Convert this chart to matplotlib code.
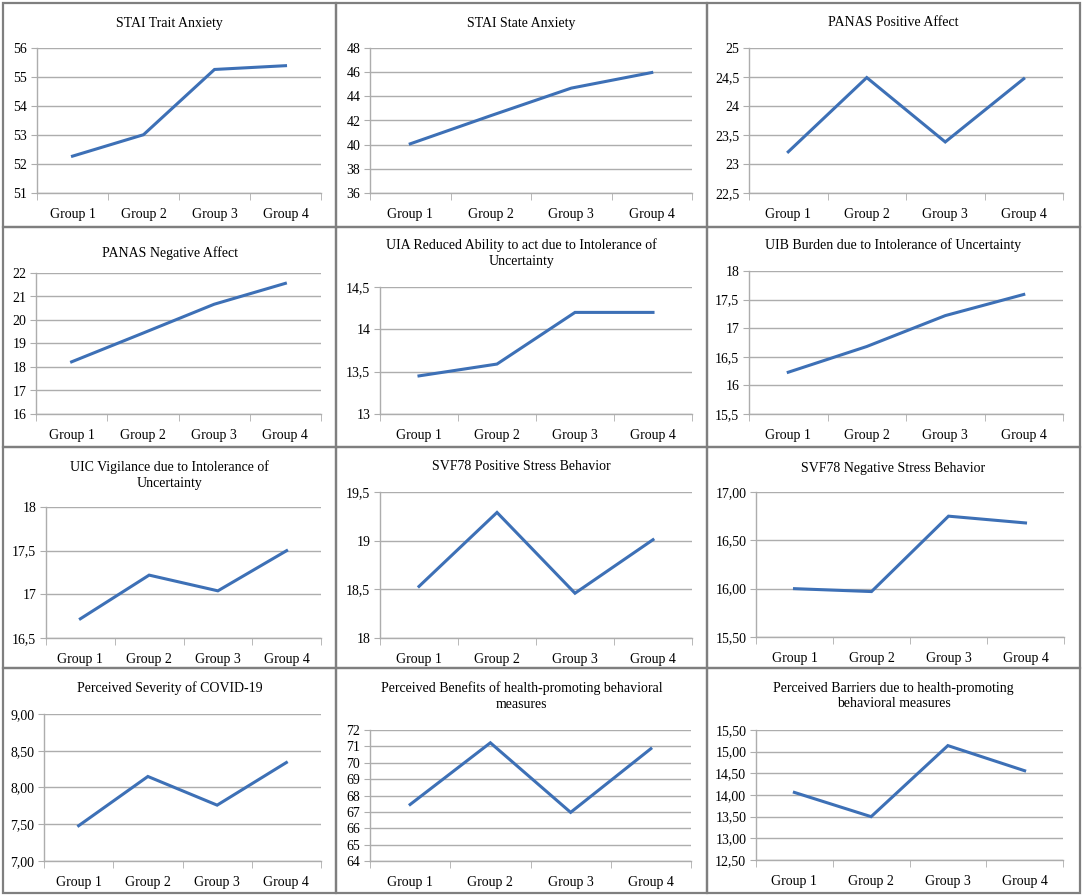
import numpy as np
import matplotlib
matplotlib.use('Agg')
from matplotlib import pyplot as plt
from matplotlib.ticker import FuncFormatter, FixedLocator
from matplotlib.patches import Rectangle

plt.rcParams['font.family'] = ['Liberation Serif', 'DejaVu Serif']
plt.rcParams['font.size'] = 10

groups = ['Group 1', 'Group 2', 'Group 3', 'Group 4']

titles = [
    'STAI Trait Anxiety',
    'STAI State Anxiety',
    'PANAS Positive Affect',
    'PANAS Negative Affect',
    'UIA Reduced Ability to act due to Intolerance of\nUncertainty',
    'UIB Burden due to Intolerance of Uncertainty',
    'UIC Vigilance due to Intolerance of\nUncertainty',
    'SVF78 Positive Stress Behavior',
    'SVF78 Negative Stress Behavior',
    'Perceived Severity of COVID-19',
    'Perceived Benefits of health-promoting behavioral\nmeasures',
    'Perceived Barriers due to health-promoting\nbehavioral measures',
]

stai_trait = [52.27, 53.01, 55.26, 55.39]
stai_state = [40.07, 42.40, 44.68, 45.97]
panas_pos = [23.21, 24.49, 23.38, 24.47]
panas_neg = [18.22, 19.44, 20.67, 21.56]
uia = [13.45, 13.59, 14.20, 14.20]
uib = [16.23, 16.68, 17.22, 17.59]
uic = [16.72, 17.22, 17.04, 17.50]
svf_pos = [18.53, 19.29, 18.46, 19.01]
svf_neg = [16.00, 15.97, 16.75, 16.68]
severity = [7.48, 8.15, 7.76, 8.34]
benefits = [67.45, 71.22, 66.97, 70.86]
barriers = [14.06, 13.50, 15.14, 14.56]

series = [stai_trait, stai_state, panas_pos, panas_neg, uia, uib,
          uic, svf_pos, svf_neg, severity, benefits, barriers]

# y axis ranges (min, max, step) and label style
yranges = [(51, 56, 1), (36, 48, 2), (22.5, 25, 0.5),
           (16, 22, 1), (13, 14.5, 0.5), (15.5, 18, 0.5),
           (16.5, 18, 0.5), (18, 19.5, 0.5), (15.5, 17, 0.5),
           (7, 9, 0.5), (64, 72, 1), (12.5, 15.5, 0.5)]
ystyles = ['g', 'g', 'g', 'g', 'g', 'g', 'g', 'g', '2f', '2f', 'g', '2f']

W, H = 1084, 896
fig = plt.figure(figsize=(W / 100, H / 100), dpi=100)

# panel borders (pixels)
col_x = [3, 336, 707, 1080]
row_y = [3, 227, 447, 668, 893]

# plot areas in pixels: left, right, top, bottom
boxes = [
    (37, 321, 48, 193), (370, 692, 48, 193), (749, 1063, 48, 193),
    (36, 321, 273, 414), (380, 692, 287, 414), (749, 1063, 271, 414),
    (46, 321, 507, 638), (380, 692, 492, 638), (756, 1064, 492, 637),
    (44, 321, 714, 861), (370, 691, 730, 861), (756, 1063, 730, 860),
]
title_y = [23, 23, 23, 253, 253, 245, 475, 466, 468, 688, 696, 696]

blue = '#3D70B6'
grid_c = '#ADADAD'


def make_fmt(style):
    def f(v, pos):
        s = f'{v:.2f}' if style == '2f' else f'{v:g}'
        return s.replace('.', ',')
    return f


for i in range(12):
    r, c = divmod(i, 3)
    l, rr, t, b = boxes[i]
    ax = fig.add_axes([l / W, 1 - b / H, (rr - l) / W, (b - t) / H])
    x = np.arange(len(groups))
    ax.plot(x, series[i], color=blue, lw=2.2, solid_joinstyle='miter')
    lo, hi, st = yranges[i]
    ax.set_ylim(lo, hi)
    ax.set_xlim(-0.5, 3.5)
    ax.yaxis.set_major_locator(FixedLocator(np.arange(lo, hi + st / 2, st)))
    ax.yaxis.set_major_formatter(FuncFormatter(make_fmt(ystyles[i])))
    ax.set_xticks(x)
    ax.set_xticklabels(groups)
    ax.set_xticks(np.arange(-0.5, 4, 1), minor=True)
    ax.tick_params(axis='x', which='major', length=0, pad=11, labelsize=10)
    ax.tick_params(axis='x', which='minor', length=5, color=grid_c, direction='out')
    ax.tick_params(axis='y', length=4, color=grid_c, pad=3, labelsize=10)
    ax.yaxis.grid(True, color=grid_c, lw=1.0)
    ax.set_axisbelow(True)
    for s in ['top', 'right']:
        ax.spines[s].set_visible(False)
    for s in ['left', 'bottom']:
        ax.spines[s].set_color(grid_c)
        ax.spines[s].set_linewidth(1.0)
    ax.patch.set_alpha(0)

    cx = (col_x[c] + col_x[c + 1]) / 2
    fig.text(cx / W, 1 - title_y[i] / H, titles[i], ha='center', va='center',
             fontsize=10, linespacing=1.25)

    fig.patches.append(Rectangle((col_x[c] / W, 1 - row_y[r + 1] / H),
                                 (col_x[c + 1] - col_x[c]) / W,
                                 (row_y[r + 1] - row_y[r]) / H,
                                 transform=fig.transFigure, fill=False,
                                 edgecolor='#7F7F7F', lw=1.6))

fig.savefig('out.png', dpi=100)
